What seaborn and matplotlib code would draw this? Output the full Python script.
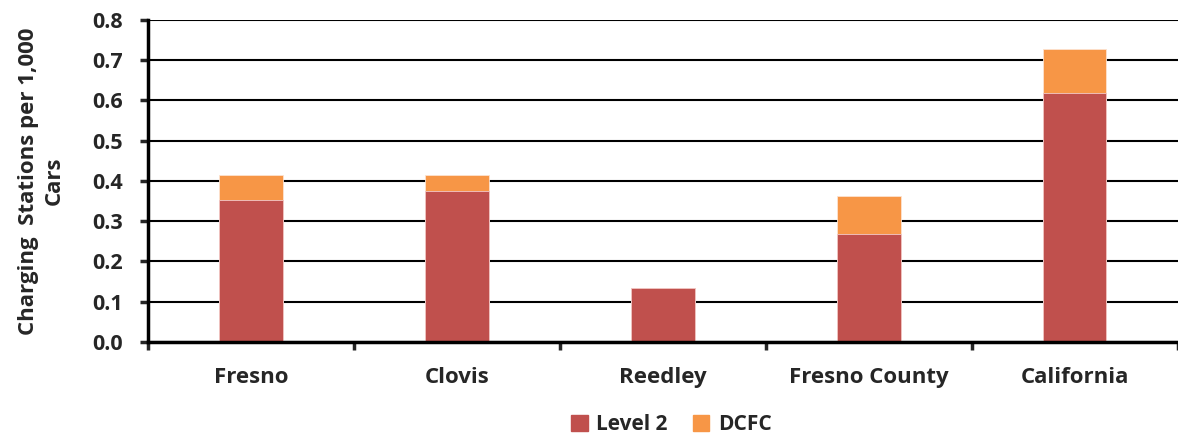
import matplotlib
matplotlib.use("Agg")
import matplotlib.pyplot as plt
import matplotlib.patches as mpatches
import numpy as np
import pandas as pd
import seaborn as sns

# values
places = ["Fresno", "Clovis", "Reedley", "Fresno County", "California"]
level2 = [0.352, 0.376, 0.133, 0.268, 0.619]
dcfc = [0.064, 0.040, 0.0, 0.095, 0.108]

red = "#c0504d"
orange = "#f79646"

sns.set_style("white")
plt.rcParams["font.family"] = ["Open Sans", "DejaVu Sans"]
plt.rcParams["font.weight"] = "bold"

df = pd.DataFrame({"place": places, "level2": level2, "dcfc": dcfc})
df["total"] = df["level2"] + df["dcfc"]

fig = plt.figure(figsize=(11.78, 4.34), dpi=100)
ax = fig.add_axes([0.1256, 0.212, 0.874, 0.742])

# gridlines behind the bars
ax.set_axisbelow(True)
ax.yaxis.grid(True, color="black", linewidth=1.5)

# stacked bars: total first (DCFC colour), then Level 2 on top
sns.barplot(data=df, x="place", y="total", color=orange, width=0.31,
            edgecolor="#fde3d0", linewidth=0.6, saturation=1, ax=ax)
sns.barplot(data=df, x="place", y="level2", color=red, width=0.31,
            edgecolor="#f2c9c8", linewidth=0.6, saturation=1, ax=ax)

ax.set_xlim(-0.5, 4.5)
ax.set_ylim(0, 0.8)
ax.set_yticks(np.arange(0, 0.81, 0.1))
ax.set_yticklabels([f"{v:.1f}" for v in np.arange(0, 0.81, 0.1)],
                   fontsize=15.5, fontweight="bold")
ax.set_xticks(range(len(places)))
ax.set_xticklabels(places, fontsize=16, fontweight="bold")
ax.tick_params(axis="x", which="major", length=0, pad=18)
ax.set_xticks(np.arange(-0.5, 4.6, 1), minor=True)
ax.tick_params(axis="x", which="minor", length=6, width=2.5, direction="out", bottom=True)
ax.tick_params(axis="y", length=6, width=2.5, direction="out", left=True, pad=12)

ax.set_xlabel("")
ax.set_ylabel("Charging  Stations per 1,000\nCars", fontsize=16, fontweight="bold",
              linespacing=1.3, labelpad=20)

for s in ["top", "right"]:
    ax.spines[s].set_visible(False)
for s in ["left", "bottom"]:
    ax.spines[s].set_color("black")
    ax.spines[s].set_linewidth(2.5)

handles = [mpatches.Patch(color=red, label="Level 2"),
           mpatches.Patch(color=orange, label="DCFC")]
fig.legend(handles=handles, loc="lower center", bbox_to_anchor=(0.57, -0.045),
           ncol=2, frameon=False, prop={"size": 15, "weight": "bold"},
           handlelength=0.8, handleheight=0.8, handletextpad=0.4, columnspacing=1.2)

fig.savefig("out.png", dpi=100)
